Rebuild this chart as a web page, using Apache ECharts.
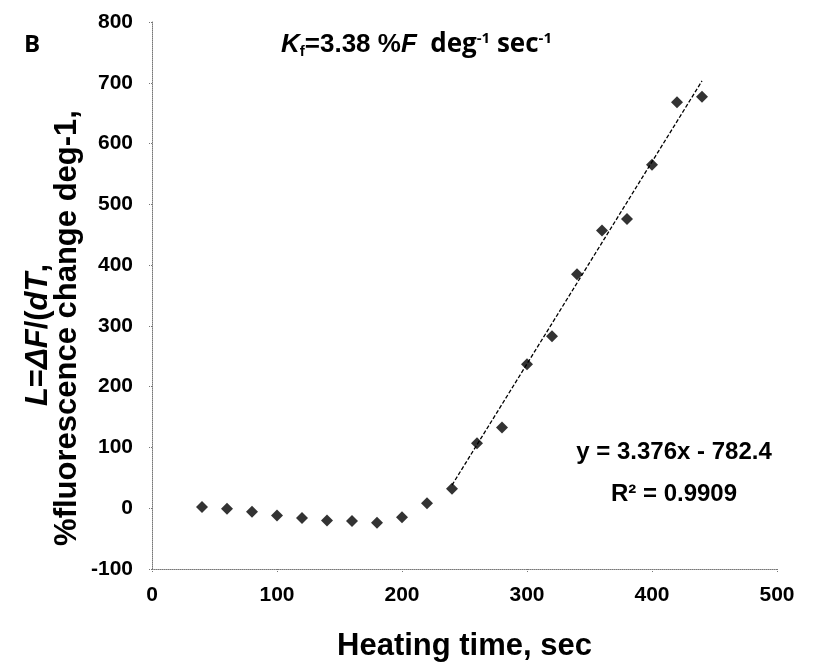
<!DOCTYPE html>
<html>
<head>
<meta charset="utf-8">
<script src="https://cdn.jsdelivr.net/npm/echarts@6/dist/echarts.min.js"></script>
<style>html,body{margin:0;padding:0;background:#fff}#c{width:825px;height:667px}</style>
</head>
<body>
<div id="c"></div>
<script>
// Data
var heatingTime = [40, 60, 80, 100, 120, 140, 160, 180, 200, 220, 240, 260, 280, 300, 320, 340, 360, 380, 400, 420, 440];
var fluorescence = [2, -1, -6, -12, -16, -20, -21, -24, -15, 8, 32, 107, 133, 237, 283, 385, 457, 476, 565, 668, 677];
var trendX = [240, 440];
var trendY = [38, 703];
var xTicks = [0, 100, 200, 300, 400, 500];
var yTicks = [-100, 0, 100, 200, 300, 400, 500, 600, 700, 800];
var equationText = 'y = 3.376x - 782.4';
var r2Text = 'R² = 0.9909';

var chart = echarts.init(document.getElementById('c'));
var FONT = '"Liberation Sans", Arial, sans-serif';
var axisLineStyle = {color: '#777', type: 'dotted', width: 1};

chart.setOption({
  animation: false,
  backgroundColor: '#fff',
  grid: {left: 152, right: 48, top: 22, bottom: 85},
  xAxis: {
    type: 'value', min: xTicks[0], max: xTicks[xTicks.length - 1], interval: 100,
    axisLine: {show: true, onZero: false, lineStyle: axisLineStyle},
    axisTick: {show: true, inside: false, length: 4, lineStyle: axisLineStyle},
    splitLine: {show: false},
    axisLabel: {margin: 16, color: '#000', fontFamily: FONT, fontWeight: 'bold', fontSize: 21},
    name: 'Heating time, sec', nameLocation: 'middle', nameGap: 62,
    nameTextStyle: {color: '#000', fontFamily: FONT, fontWeight: 'bold', fontSize: 31}
  },
  yAxis: {
    type: 'value', min: yTicks[0], max: yTicks[yTicks.length - 1], interval: 100,
    axisLine: {show: true, onZero: false, lineStyle: axisLineStyle},
    axisTick: {show: true, inside: false, length: 4, lineStyle: axisLineStyle},
    splitLine: {show: false},
    axisLabel: {margin: 19, color: '#000', fontFamily: FONT, fontWeight: 'bold', fontSize: 21}
  },
  series: [
    {
      type: 'scatter', symbol: 'diamond', symbolSize: 12,
      itemStyle: {color: '#000'},
      data: heatingTime.map(function (x, i) { return [x, fluorescence[i]]; }),
      z: 3
    },
    {
      type: 'line', symbol: 'none',
      lineStyle: {color: '#000', width: 1.3, type: [4, 2]},
      data: trendX.map(function (x, i) { return [x, trendY[i]]; }),
      z: 2
    }
  ],
  graphic: [
    {type: 'text', left: 24, top: 33, style: {text: 'B', font: 'bold 24px "Open Sans", sans-serif', fill: '#000'}},
    {type: 'text', left: 281, top: 31, style: {
      rich: {
        k: {fontFamily: FONT, fontWeight: 'bold', fontStyle: 'italic', fontSize: 26, fill: '#000'},
        sub: {fontFamily: FONT, fontWeight: 'bold', fontSize: 15, fill: '#000', verticalAlign: 'bottom', padding: [12, 0, 0, 0]},
        eq: {fontFamily: FONT, fontWeight: 'bold', fontSize: 26, fill: '#000'},
        n: {fontFamily: '"Open Sans", sans-serif', fontWeight: 'bold', fontSize: 26, fill: '#000'},
        sup: {fontFamily: '"Open Sans", sans-serif', fontWeight: 'bold', fontSize: 15, fill: '#000', verticalAlign: 'top', padding: [0, 0, 13, 0]}
      },
      text: '{k|K}{sub|f}{eq|=3.38 %}{k|F}{n|  deg}{sup|-1}{n| sec}{sup|-1}'
    }},
    {type: 'text', x: 38, y: 335, rotation: Math.PI / 2, style: {
      rich: {
        i: {fontFamily: FONT, fontWeight: 'bold', fontStyle: 'italic', fontSize: 31, fill: '#000'},
        r: {fontFamily: FONT, fontWeight: 'bold', fontSize: 31, fill: '#000'}
      },
      text: '{i|L}{r|=}{i|ΔF}{r|/(}{i|dT}{r|,}', align: 'center', verticalAlign: 'middle'
    }},
    {type: 'text', x: 67, y: 328, rotation: Math.PI / 2, style: {
      text: '%fluorescence change deg-1,', font: 'bold 31px ' + FONT, fill: '#000', align: 'center', verticalAlign: 'middle'
    }},
    {type: 'text', x: 674, y: 452, style: {text: equationText, font: 'bold 24px ' + FONT, fill: '#000', align: 'center', verticalAlign: 'middle'}},
    {type: 'text', x: 674, y: 494, style: {text: r2Text, font: 'bold 24px ' + FONT, fill: '#000', align: 'center', verticalAlign: 'middle'}}
  ]
});
</script>
</body>
</html>
